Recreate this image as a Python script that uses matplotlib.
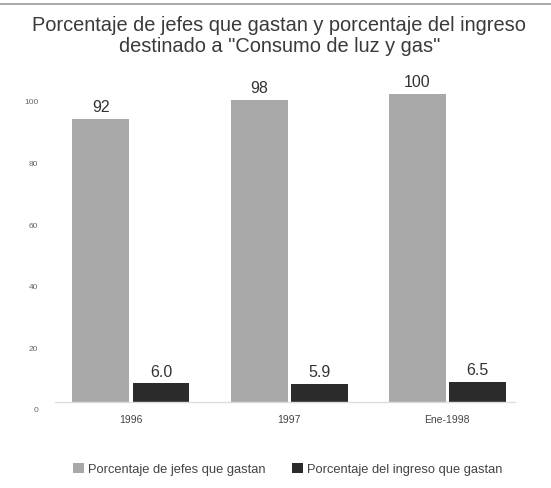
import matplotlib
matplotlib.use("Agg")
import matplotlib.pyplot as plt
import matplotlib.transforms as mtransforms
import numpy as np
from matplotlib.patches import Patch
from matplotlib.lines import Line2D

categories = ["1996", "1997", "Ene-1998"]
jefes = [92, 98, 100]
ingreso = [6.0, 5.9, 6.5]
jefes_labels = ["92", "98", "100"]
ingreso_labels = ["6.0", "5.9", "6.5"]
yticks = [0, 20, 40, 60, 80, 100]
series_names = ["Porcentaje de jefes que gastan", "Porcentaje del ingreso que gastan"]
title = "Porcentaje de jefes que gastan y porcentaje del ingreso\ndestinado a \"Consumo de luz y gas\""

narrow = ["Liberation Sans Narrow", "Liberation Sans", "DejaVu Sans"]

fig = plt.figure(figsize=(5.51, 4.89), dpi=100)
fig.patch.set_facecolor("white")
ax = fig.add_axes([0.10, 0.176, 0.835, 0.630])

x = np.arange(len(categories))
w = 0.36
off = 0.19
c_gray = "#a9a9a9"
c_dark = "#2b2b2b"
ax.bar(x - off, jefes, w, color=c_gray)
ax.bar(x + off, ingreso, w, color=c_dark)

for xi, v, lab in zip(x, jefes, jefes_labels):
    ax.text(xi - off, v + 1.5, lab, ha="center", va="bottom", fontsize=11.5,
            color="#333333", family=narrow)
for xi, v, lab in zip(x, ingreso, ingreso_labels):
    ax.text(xi + off, v + 1.5, lab, ha="center", va="bottom", fontsize=11.5,
            color="#333333", family=narrow)

ax.set_xlim(-0.48, 2.43)
ax.set_ylim(0, 100)
ax.set_yticks(yticks)
ax.set_yticklabels([str(t) for t in yticks], fontsize=6, color="#666666", family=narrow)
ax.set_xticks(x)
ax.set_xticklabels(categories, fontsize=7.5, color="#444444", family=narrow)
ax.tick_params(axis="both", length=0)
ax.tick_params(axis="y", pad=12)
ax.tick_params(axis="x", pad=9)
shift = mtransforms.ScaledTranslation(0, -7 / 100, fig.dpi_scale_trans)
for lab in ax.get_yticklabels():
    lab.set_transform(lab.get_transform() + shift)
for s in ["top", "right", "left"]:
    ax.spines[s].set_visible(False)
ax.spines["bottom"].set_color("#dddddd")
ax.spines["bottom"].set_linewidth(1.0)

fig.text(0.507, 0.926, title, ha="center", va="center", fontsize=14.4,
         color="#3a3a3a", family=narrow, linespacing=1.1)

fig.add_artist(Line2D([0.0, 1.0], [0.99, 0.99], color="#999999", lw=1.2,
                      transform=fig.transFigure))

handles = [Patch(facecolor=c_gray, label=series_names[0]),
           Patch(facecolor=c_dark, label=series_names[1])]
leg = fig.legend(handles=handles, loc="center", bbox_to_anchor=(0.522, 0.039),
                 ncol=2, frameon=False, handlelength=0.9,
                 handleheight=0.9, handletextpad=0.3, columnspacing=2.0,
                 prop={"family": narrow, "size": 9.3})
for t in leg.get_texts():
    t.set_color("#444444")

fig.savefig("out.png", dpi=100, facecolor="white")
